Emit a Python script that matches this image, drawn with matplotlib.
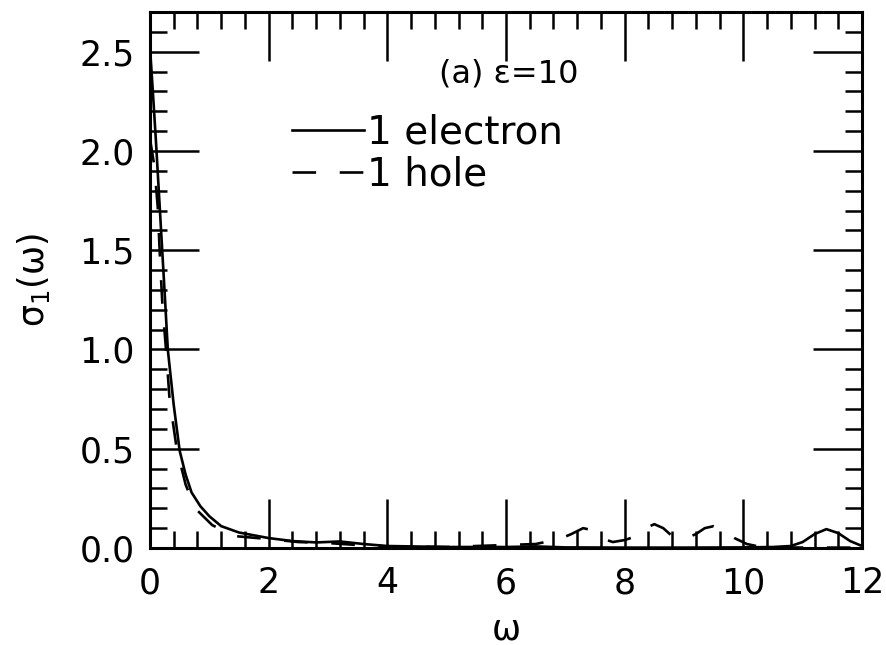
import matplotlib
matplotlib.use('Agg')
import matplotlib.pyplot as plt
import numpy as np
from matplotlib.ticker import MultipleLocator

plt.rcParams['font.family'] = ['DejaVu Sans']
plt.rcParams['mathtext.default'] = 'regular'
plt.rcParams['lines.scale_dashes'] = False

# 1 electron (solid)
w_el = [0, 0.05, 0.1, 0.15, 0.2, 0.25, 0.3, 0.4, 0.5, 0.6, 0.7, 0.85, 1.0, 1.2,
        1.5, 2.0, 2.4, 2.8, 3.2, 3.6, 4.0, 5.0, 6.0, 6.5, 7.0, 8.0, 9.0, 10.0,
        10.5, 10.8, 11.0, 11.2, 11.4, 11.6, 11.8, 12.0]
s_el = [2.52, 2.29, 2.05, 1.79, 1.53, 1.27, 1.0, 0.72, 0.49, 0.37, 0.28, 0.21,
        0.16, 0.11, 0.078, 0.05, 0.035, 0.028, 0.033, 0.02, 0.01, 0.005, 0.005,
        0.008, 0.003, 0.002, 0.002, 0.003, 0.005, 0.01, 0.03, 0.07, 0.095,
        0.075, 0.035, 0.01]

# 1 hole (dashed)
w_ho = [0, 0.07, 0.13, 0.17, 0.21, 0.27, 0.33, 0.45, 0.6, 0.76, 1.05, 1.43,
        2.0, 2.5, 3.0, 3.5, 4.0, 5.0, 6.0, 6.5, 6.9, 7.1, 7.3, 7.45, 7.6, 7.8,
        8.0, 8.2, 8.35, 8.5, 8.65, 8.8, 9.0, 9.2, 9.35, 9.5, 9.66, 9.85, 10.06,
        10.3, 11.0, 12.0]
s_ho = [2.06, 1.93, 1.72, 1.45, 1.22, 1.0, 0.75, 0.5, 0.32, 0.2, 0.115, 0.06,
        0.045, 0.03, 0.025, 0.015, 0.008, 0.005, 0.015, 0.02, 0.045, 0.07, 0.1,
        0.09, 0.05, 0.03, 0.04, 0.06, 0.1, 0.12, 0.1, 0.06, 0.045, 0.07, 0.1,
        0.11, 0.09, 0.05, 0.02, 0.005, 0.002, 0.002]

fig = plt.figure(figsize=(8.87, 6.45), dpi=100)
ax = fig.add_axes([150/887, 97/645, 712/887, 536/645])

ax.plot(w_el, s_el, color='black', lw=1.9, label='1 electron')
ax.plot(w_ho, s_ho, color='black', lw=1.9, linestyle=(0, (17, 17)), label='1 hole')

ax.set_xlim(0, 12)
ax.set_ylim(0, 2.7)
ax.xaxis.set_major_locator(MultipleLocator(2))
ax.xaxis.set_minor_locator(MultipleLocator(0.4))
ax.yaxis.set_major_locator(MultipleLocator(0.5))
ax.yaxis.set_minor_locator(MultipleLocator(0.1))
ax.xaxis.set_major_formatter(plt.FuncFormatter(lambda v, p: f'{v:.0f}'))
ax.yaxis.set_major_formatter(plt.FuncFormatter(lambda v, p: f'{v:.1f}'))

ax.tick_params(which='both', direction='in', top=True, right=True,
               width=1.8, color='black')
ax.tick_params(which='major', length=35, labelsize=25)
ax.tick_params(which='minor', length=12)
ax.tick_params(axis='x', which='major', pad=13)
ax.tick_params(axis='y', which='major', pad=11)
for sp in ax.spines.values():
    sp.set_linewidth(2.2)

ax.set_xlabel(r'ω', fontsize=25, labelpad=9)
ax.set_ylabel(r'$\sigma_1(\omega)$', fontsize=25, labelpad=20)

ax.text(0.504, 0.884, '(a) ε=10', transform=ax.transAxes, fontsize=23,
        ha='center', va='center')

ax.legend(loc='upper left', bbox_to_anchor=(0.199, 0.81), frameon=False,
          fontsize=28, handlelength=1.85, handletextpad=0.08, borderpad=0,
          borderaxespad=0, labelspacing=0.1)

fig.savefig('out.png', dpi=100)
